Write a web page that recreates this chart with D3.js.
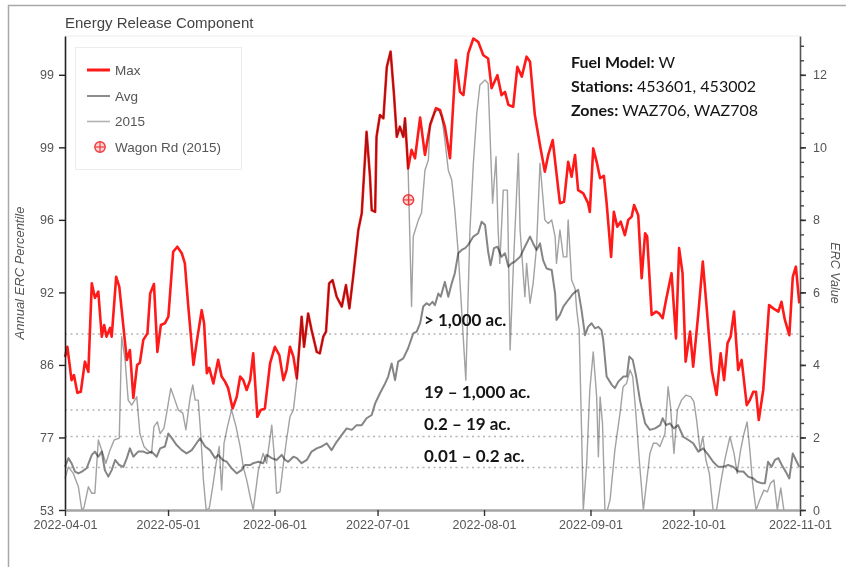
<!DOCTYPE html>
<html><head><meta charset="utf-8">
<script src="https://cdn.jsdelivr.net/npm/d3@7"></script>
<style>
html,body{margin:0;padding:0;background:#fff;}
svg{display:block;}
</style></head><body>
<svg id="chart" width="846" height="567"></svg>
<script>
// ---------------- DATA ----------------
const startDate = "2022-04-01";
const endDate = "2022-11-01";

// day offsets from 2022-04-01 and ERC values
const maxDay = [0.0,0.7,1.9,2.6,3.6,4.6,5.8,6.8,7.8,8.7,9.7,10.7,11.4,12.1,13.1,13.6,14.9,15.8,17.5,18.0,18.9,19.9,21.0,21.8,22.8,24.0,24.8,25.9,26.9,27.9,29.1,30.1,31.5,32.7,34.0,34.9,35.9,37.4,38.3,39.8,40.5,41.3,42.0,43.2,44.6,45.6,46.6,47.5,48.8,50.0,51.0,51.9,52.9,53.9,54.8,56.0,57.0,58.2,59.7,61.1,62.4,63.6,64.5,65.5,66.5,67.5,68.9,69.6,70.8,71.8,73.3,74.2,75.2,76.0,76.9,77.9,79.1,80.6,81.8,82.8,83.9,85.4,86.4,87.8,88.8,89.3,90.3,90.7,91.7,92.7,93.7,94.8,95.8,96.6,97.5,98.5,99.0,99.9,100.9,101.9,103.4,104.8,106.3,108.0,109.2,110.6,112.1,113.8,115.0,116.0,117.4,118.9,120.3,121.8,123.2,124.2,125.9,127.1,128.1,129.1,130.5,131.7,133.0,134.4,135.4,136.8,138.3,139.7,140.7,142.0,143.1,144.1,145.3,146.5,147.5,148.5,149.4,150.9,152.3,152.8,153.8,154.8,155.8,156.9,157.7,159.0,159.8,160.8,161.8,163.0,164.0,165.0,165.7,166.9,167.9,168.9,169.5,170.8,172.1,173.0,174.0,175.0,176.6,177.9,178.8,179.8,180.7,182.0,182.9,184.4,185.7,186.8,188.3,189.7,190.9,191.9,192.9,193.8,194.8,196.0,197.0,198.5,199.4,200.4,201.2,202.0,203.3,204.3,205.0,206.2,207.7,208.6,209.6,210.9,211.9,212.8,213.8];
const maxErc = [4.22,4.50,3.58,3.72,3.23,3.26,4.09,3.81,6.25,5.85,6.02,4.78,5.10,4.78,5.02,4.78,6.43,6.16,4.60,4.14,4.41,3.09,4.00,4.06,4.69,4.87,5.97,6.23,4.36,5.10,5.15,5.33,7.12,7.26,7.08,6.80,5.61,4.00,4.60,5.51,5.15,3.77,3.92,3.49,4.14,3.68,3.54,3.36,2.80,3.12,3.68,3.58,3.31,3.58,4.32,2.57,2.76,2.80,4.04,4.50,4.27,3.58,3.86,4.50,4.23,3.63,5.33,4.50,5.42,4.96,4.36,4.32,4.78,4.92,6.25,6.34,5.88,5.61,6.20,5.56,6.43,7.72,8.18,10.43,9.19,8.27,8.22,10.29,10.89,10.80,12.22,12.64,11.44,10.29,10.57,10.29,10.80,9.42,9.93,9.70,10.82,9.79,10.61,11.08,11.03,10.57,9.70,12.41,11.53,11.44,12.59,13.00,12.91,12.54,12.45,11.63,11.99,11.44,11.53,11.17,11.12,12.22,11.95,12.50,12.36,10.89,10.06,9.33,9.79,10.20,9.28,8.46,8.50,9.60,9.19,9.79,8.82,8.73,8.46,8.22,9.97,9.60,9.15,9.21,8.46,6.98,8.22,7.81,7.95,7.58,8.00,8.09,8.41,8.13,6.39,7.63,7.54,5.38,5.47,5.42,5.29,5.79,6.53,4.73,7.22,6.53,4.09,4.92,3.95,5.42,6.85,5.61,3.86,3.17,4.32,3.58,4.60,4.78,5.47,3.86,4.14,2.89,3.03,3.26,3.26,2.48,3.31,4.69,5.65,5.56,5.47,5.74,5.24,4.82,6.43,6.71,5.70];

const avgDay = [0.0,1.0,1.9,2.9,3.9,4.9,6.3,7.8,8.7,9.7,10.7,11.6,12.6,13.6,14.6,15.8,17.0,18.0,18.9,19.9,21.3,22.8,24.0,25.2,26.7,27.7,29.1,30.1,31.1,32.5,34.0,35.4,36.9,38.3,39.3,40.8,42.2,43.7,44.6,45.9,47.1,48.5,50.0,51.4,52.4,53.9,54.8,56.3,57.7,58.7,60.2,61.6,63.1,64.1,65.0,66.5,67.5,68.9,70.4,71.8,73.3,74.7,76.2,77.6,79.1,80.6,82.0,83.5,84.9,86.4,87.8,89.3,90.3,91.7,93.2,94.1,95.1,96.1,97.0,98.5,99.9,101.4,102.4,103.4,104.3,105.3,106.1,107.0,107.7,108.7,109.4,110.6,111.6,112.6,113.5,114.5,115.5,116.5,117.4,118.9,120.3,121.3,122.3,123.2,123.9,124.9,125.9,127.1,128.1,129.1,130.0,131.0,132.5,133.9,135.4,136.3,137.3,138.3,139.2,140.2,141.7,142.7,143.1,144.1,145.1,146.5,148.0,149.4,150.4,151.4,152.3,153.3,154.3,155.3,156.2,156.7,157.7,159.2,160.1,161.1,162.6,163.6,164.3,165.3,166.3,167.4,168.9,170.3,171.8,173.3,174.0,175.0,176.1,177.3,178.5,180.0,181.5,182.9,184.4,185.8,187.3,188.7,190.2,191.6,193.1,194.6,196.0,197.5,198.9,200.4,201.5,202.8,203.8,204.7,205.7,206.7,207.7,208.7,210.1,210.9,211.9,212.8,213.8];
const avgErc = [1.19,1.43,1.29,1.06,1.01,1.06,1.15,1.52,1.61,1.47,1.61,1.10,0.92,1.10,1.38,1.24,1.19,1.43,1.70,1.47,1.61,1.61,1.56,1.61,1.47,1.70,1.75,2.11,1.98,1.79,1.65,1.56,1.65,1.84,1.98,1.75,1.65,1.43,1.52,1.38,1.33,1.15,1.01,1.10,1.24,1.24,1.29,1.33,1.29,1.52,1.43,1.38,1.52,1.38,1.33,1.47,1.43,1.29,1.38,1.61,1.70,1.75,1.84,1.65,1.88,2.07,2.25,2.21,2.34,2.34,2.53,2.62,2.94,3.22,3.49,3.68,4.04,3.58,4.09,4.18,4.46,4.87,4.92,5.15,5.61,5.70,5.65,5.74,5.65,5.97,5.88,6.29,5.88,6.25,6.53,7.08,7.17,7.22,7.31,7.54,7.63,7.95,7.86,7.12,6.75,7.22,7.26,6.98,7.08,6.71,6.80,6.85,6.98,7.26,7.54,7.35,7.17,7.35,6.89,6.66,6.62,5.97,5.24,5.38,5.61,5.79,5.97,6.07,5.51,4.82,5.05,5.15,5.01,5.05,4.96,4.69,3.68,3.45,3.36,3.54,3.68,3.68,4.23,4.14,3.68,3.03,2.39,2.21,2.25,2.34,2.53,2.34,2.39,2.25,2.34,2.02,1.93,1.84,1.61,1.70,1.52,1.33,1.19,1.19,1.24,1.19,1.06,1.06,0.92,0.87,0.78,0.74,0.74,1.33,1.19,1.38,1.43,1.24,1.01,0.87,1.56,1.38,1.19];

const y2015Day = [0.0,1.0,2.4,3.9,4.9,5.5,6.8,7.8,8.7,9.7,10.7,11.9,13.1,14.3,15.8,16.5,17.5,18.4,19.4,20.9,21.8,23.0,24.0,25.2,25.9,26.9,27.7,28.8,29.6,30.8,32.0,33.0,34.3,35.2,36.4,37.2,37.9,38.8,39.5,40.3,41.1,42.0,43.0,44.0,44.9,45.6,46.3,47.3,48.5,49.8,51.0,51.9,52.9,53.9,54.8,56.3,57.7,58.7,60.2,61.1,61.6,62.6,63.6,64.5,65.5,66.5,67.5,68.9,69.6,70.8,71.8,73.3,74.2,75.2,76.0,76.9,77.9,79.1,80.6,81.8,82.8,83.9,85.4,86.4,87.8,88.8,89.3,90.3,90.7,91.7,92.7,93.7,94.8,95.8,96.6,97.5,98.5,99.0,99.9,100.9,101.4,102.9,103.8,104.8,105.8,106.3,107.7,108.7,109.7,110.6,111.6,112.6,113.5,114.5,116.7,117.9,118.9,119.9,120.8,122.3,123.2,123.7,124.5,125.5,126.1,126.6,127.6,128.8,129.6,130.5,132.0,132.5,133.9,134.4,135.4,136.3,137.3,138.3,139.7,140.7,141.7,142.7,143.1,144.1,145.1,146.1,146.5,147.5,148.5,149.0,149.7,150.4,150.9,151.9,152.8,153.8,154.8,155.3,155.8,156.5,157.2,157.9,158.7,160.1,161.6,162.5,163.5,164.5,165.3,166.2,167.2,168.4,169.3,170.3,171.3,172.3,173.2,174.7,175.6,176.3,177.3,178.3,179.5,180.8,182.2,183.1,183.9,184.9,185.7,186.6,187.6,188.7,189.7,190.9,192.1,193.6,194.8,195.7,196.7,197.7,198.6,199.4,200.2,201.2,202.3,203.5,204.5,205.4,206.4,207.4,208.4,209.3];
const y2015Erc = [0.87,1.19,1.01,0.64,0,0.06,0.64,0.46,0.46,1.93,1.65,1.29,1.65,1.93,1.98,4.78,4.14,3.03,2.89,3.12,2.11,1.75,1.65,1.56,2.30,2.43,2.11,2.25,2.67,3.36,3.03,2.76,2.67,2.21,3.08,3.45,3.03,3.03,2.11,0.83,0,0.05,0.64,1.29,1.75,0.55,1.84,2.30,2.76,2.30,1.75,1.19,0.83,0.37,0,1.10,1.56,1.29,2.34,1.29,0.46,0.50,1.29,1.93,2.57,2.76,3.58,5.33,4.50,5.42,4.96,4.36,4.32,4.78,4.92,6.25,6.34,5.88,5.61,6.20,5.56,6.43,7.72,8.18,10.43,9.19,8.27,8.22,10.29,10.89,10.80,12.22,12.64,11.44,10.29,10.57,10.29,10.80,9.42,5.61,7.54,8.00,8.19,9.37,9.65,10.66,10.98,11.03,10.84,10.20,9.37,9.10,8.27,7.08,3.58,7.72,9.56,10.94,11.72,11.86,11.76,10.48,8.46,9.74,7.72,6.80,8.82,8.82,4.41,6.62,9.83,7.72,5.88,6.80,5.70,6.25,7.26,9.56,8.00,7.90,8.00,7.54,6.80,7.72,6.98,6.98,8.00,6.34,6.11,5.51,4.96,2.21,0,1.29,3.31,4.36,3.12,1.47,3.12,2.39,0,0,0.28,1.65,2.67,3.40,3.49,3.86,3.68,2.67,1.38,0,0.74,1.56,1.84,1.84,1.75,2.11,3.40,2.85,1.56,2.76,3.03,3.17,3.12,2.99,2.48,1.65,2.02,1.38,1.01,0,0,0.74,1.38,2.02,1.56,1.01,1.65,2.11,2.43,1.65,0.74,0,0.28,0.55,0.50,0.74,0.83,0,0.61,0];

const wagonDate = "2022-07-10";
const wagonErc = 8.55;

const ercTicks = [0, 2, 4, 6, 8, 10, 12];
const percentileLabels = ["53", "77", "86", "92", "96", "99", "99"];
const fireSizeErc = [4.85, 2.76, 2.03, 1.17];
const fireSizeLabels = ["> 1,000 ac.", "19 \u2013 1,000 ac.", "0.2 \u2013 19 ac.", "0.01 \u2013 0.2 ac."];
const legendNames = ["Max", "Avg", "2015", "Wagon Rd (2015)"];
const infoLines = [["Fuel Model: ", "W"], ["Stations: ", "453601, 453002"], ["Zones: ", "WAZ706, WAZ708"]];

// ---------------- LAYOUT ----------------
const plot = {left: 65, right: 800, top: 36, bottom: 510};
const parse = d3.utcParse("%Y-%m-%d");
const t0 = parse(startDate), t1 = parse(endDate);
const toDate = d => new Date(t0.getTime() + d * 864e5);
const x = d3.scaleUtc().domain([t0, t1]).range([plot.left, plot.right]);
const y = d3.scaleLinear().domain([0, 13.07]).range([plot.bottom, plot.top]);
const svg = d3.select("#chart");
const sans = "'Liberation Sans', Arial, sans-serif";
const calib = "Lato, 'Open Sans', sans-serif";

// outer frame
svg.append("rect").attr("x", 8.5).attr("y", 5.5).attr("width", 900).attr("height", 700)
  .attr("fill", "none").attr("stroke", "#a8a8a8").attr("stroke-width", 1.5);

// title
svg.append("text").attr("x", 65).attr("y", 28).text("Energy Release Component")
  .attr("font-family", sans).attr("font-size", 15).attr("fill", "#444");

// plot top faint border
svg.append("line").attr("x1", plot.left).attr("x2", plot.right).attr("y1", plot.top).attr("y2", plot.top)
  .attr("stroke", "#ececec").attr("stroke-width", 1);

// threshold dotted lines
svg.append("g").selectAll("line").data(fireSizeErc).join("line")
  .attr("x1", plot.left).attr("x2", plot.right)
  .attr("y1", d => y(d)).attr("y2", d => y(d))
  .attr("stroke", "#b5b5b5").attr("stroke-width", 1.5).attr("stroke-dasharray", "2,3.5");

const toPts = (days, vals) => days.map((d, i) => [toDate(d), vals[i]]);
const line = d3.line().x(d => x(d[0])).y(d => y(d[1]));

svg.append("path").datum(toPts(avgDay, avgErc)).attr("d", line)
  .attr("fill", "none").attr("stroke", "#858585").attr("stroke-width", 2).attr("stroke-linejoin", "round");
svg.append("path").datum(toPts(maxDay, maxErc)).attr("d", line)
  .attr("fill", "none").attr("stroke", "#ff1a1a").attr("stroke-width", 2.6).attr("stroke-linejoin", "round");
svg.append("path").datum(toPts(y2015Day, y2015Erc)).attr("d", line)
  .attr("fill", "none").attr("stroke", "#a2a2a2").attr("stroke-width", 1.4).attr("stroke-linejoin", "round")
  .style("mix-blend-mode", "multiply");

// wagon road marker
function marker(g, cx, cy) {
  g.append("circle").attr("cx", cx).attr("cy", cy).attr("r", 5.2)
    .attr("fill", "rgba(255,90,90,0.25)").attr("stroke", "#f03a3a").attr("stroke-width", 1.4);
  g.append("line").attr("x1", cx - 5).attr("x2", cx + 5).attr("y1", cy).attr("y2", cy).attr("stroke", "#f03a3a").attr("stroke-width", 1.2);
  g.append("line").attr("x1", cx).attr("x2", cx).attr("y1", cy - 5).attr("y2", cy + 5).attr("stroke", "#f03a3a").attr("stroke-width", 1.2);
}
marker(svg.append("g"), x(parse(wagonDate)), y(wagonErc));

// axes
const gL = svg.append("g").attr("transform", `translate(${plot.left},0)`)
  .call(d3.axisLeft(y).tickValues(ercTicks).tickFormat((d, i) => percentileLabels[i]).tickSize(6).tickSizeOuter(0).tickPadding(5));
gL.select(".domain").attr("stroke", "#222").attr("stroke-width", 1.6);
gL.selectAll(".tick line").attr("stroke", "#222").attr("stroke-width", 1.4);
gL.selectAll("text").attr("font-family", sans).attr("font-size", 12.5).attr("fill", "#555");

const minorTicks = d3.range(0, 32.5).map(k => k * 0.4);
const gRm = svg.append("g").attr("transform", `translate(${plot.right},0)`)
  .call(d3.axisRight(y).tickValues(minorTicks).tickFormat("").tickSize(4).tickSizeOuter(0));
gRm.select(".domain").attr("stroke", "#555").attr("stroke-width", 1.6);
gRm.selectAll(".tick line").attr("stroke", "#444").attr("stroke-width", 1.4);
const gR = svg.append("g").attr("transform", `translate(${plot.right},0)`)
  .call(d3.axisRight(y).tickValues(ercTicks).tickSize(6).tickSizeOuter(0).tickPadding(7));
gR.select(".domain").remove();
gR.selectAll(".tick line").attr("stroke", "#333").attr("stroke-width", 1.6);
gR.selectAll("text").attr("font-family", sans).attr("font-size", 12.5).attr("fill", "#555");

const gB = svg.append("g").attr("transform", `translate(0,${plot.bottom})`)
  .call(d3.axisBottom(x).tickValues(d3.utcMonth.range(t0, d3.utcDay.offset(t1, 1)))
    .tickFormat(d3.utcFormat("%Y-%m-%d")).tickSize(6).tickSizeOuter(0).tickPadding(4));
gB.select(".domain").attr("stroke", "#a5a5a5").attr("stroke-width", 2.4);
gB.selectAll(".tick line").attr("stroke", "#333").attr("stroke-width", 1.4);
gB.selectAll("text").attr("font-family", sans).attr("font-size", 12.5).attr("fill", "#555");

// axis titles
svg.append("text").attr("transform", `translate(24,${(plot.top + plot.bottom) / 2}) rotate(-90)`)
  .attr("text-anchor", "middle").text("Annual ERC Percentile")
  .attr("font-family", sans).attr("font-style", "italic").attr("font-size", 13).attr("fill", "#555");
svg.append("text").attr("transform", `translate(831,${(plot.top + plot.bottom) / 2}) rotate(90)`)
  .attr("text-anchor", "middle").text("ERC Value")
  .attr("font-family", sans).attr("font-style", "italic").attr("font-size", 12.5).attr("fill", "#555");

// legend
const lg = svg.append("g");
lg.append("rect").attr("x", 75.5).attr("y", 47.5).attr("width", 166).attr("height", 122)
  .attr("fill", "#fff").attr("stroke", "#ececec");
const legRows = [70, 96, 121.5, 147];
const legStroke = [["#ff1a1a", 3], ["#8d8d8d", 2], ["#b3b3b3", 1.6]];
legStroke.forEach((s, i) => {
  lg.append("line").attr("x1", 87).attr("x2", 110).attr("y1", legRows[i]).attr("y2", legRows[i])
    .attr("stroke", s[0]).attr("stroke-width", s[1]);
});
marker(lg, 100, legRows[3]);
lg.selectAll("text").data(legendNames).join("text")
  .attr("x", 115).attr("y", (d, i) => legRows[i]).attr("dy", "0.36em").text(d => d)
  .attr("font-family", sans).attr("font-size", 13.5).attr("fill", "#555");

// fire size annotations
const annDy = [-8, -12, -6.5, -6];
svg.append("g").selectAll("text").data(fireSizeLabels).join("text")
  .attr("x", 424).attr("y", (d, i) => y(fireSizeErc[i]) + annDy[i]).text(d => d)
  .attr("font-family", calib).attr("font-weight", "bold").attr("font-size", 17).attr("fill", "#151515");

// info block
const info = svg.append("g");
infoLines.forEach((l, i) => {
  const t = info.append("text").attr("x", 571).attr("y", 68 + i * 24)
    .attr("font-family", calib).attr("font-size", 16).attr("fill", "#151515");
  t.append("tspan").attr("font-weight", "bold").text(l[0]);
  t.append("tspan").attr("font-weight", "normal").text(l[1]);
});
</script>
</body></html>
